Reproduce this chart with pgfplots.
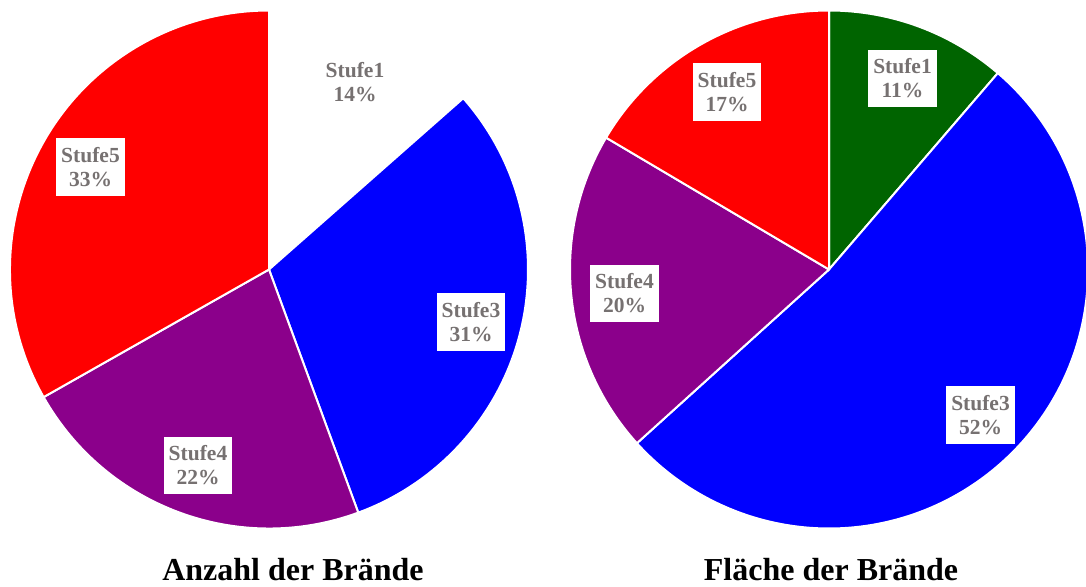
\documentclass[border=0pt]{standalone}
\usepackage{pgfplots}
\pgfplotsset{compat=1.18}
\usepackage{fontspec}
\setmainfont{Liberation Serif}
\definecolor{labgray}{RGB}{118,113,113}
\definecolor{pieblue}{RGB}{0,0,255}
\definecolor{piered}{RGB}{255,0,0}
\definecolor{piepurple}{RGB}{139,0,139}
\definecolor{piegreen}{RGB}{0,100,0}
\tikzset{lab/.style={fill=white, text=labgray, font=\fontsize{21.5}{24}\selectfont\bfseries,
    align=center, inner xsep=5pt, inner ysep=9pt}}
\newcommand\pieslices[4]{% cx, cy, radius, list value/color
  \gdef\cum{0}%
  \foreach \v/\c in {#4}{%
    \pgfmathsetmacro\a{90-3.6*\cum}%
    \pgfmathsetmacro\b{90-3.6*(\cum+\v)}%
    \edef\tmp{\noexpand\fill[fill=\c, draw=white, line width=2pt, line join=round] (axis cs:#1,#2) -- ++(\a:#3pt) arc[start angle=\a, end angle=\b, radius=#3pt] -- cycle;}%
    \tmp
    \pgfmathsetmacro\nc{\cum+\v}%
    \global\let\cum\nc
  }%
}
\begin{document}
\begin{tikzpicture}
\useasboundingbox (0,0) rectangle (1086pt,586pt);
\begin{axis}[
  at={(0,0)}, anchor=south west,
  scale only axis, width=1086pt, height=586pt,
  xmin=0, xmax=1086, ymin=0, ymax=586, y dir=reverse,
  hide axis,
]
% Anzahl der Brände: Stufe1, Stufe3, Stufe4, Stufe5
\pieslices{269}{269.5}{259}{13.5/white, 30.9/pieblue, 22.4/piepurple, 33.2/piered}
% Fläche der Brände
\pieslices{829}{269.5}{259}{11.3/piegreen, 52.0/pieblue, 20.2/piepurple, 16.5/piered}

\node[lab] at (axis cs:355,82) {Stufe1\\14\%};
\node[lab] at (axis cs:471,322) {Stufe3\\31\%};
\node[lab] at (axis cs:198,465.5) {Stufe4\\22\%};
\node[lab] at (axis cs:90.5,167) {Stufe5\\33\%};

\node[lab] at (axis cs:902.5,78.5) {Stufe1\\11\%};
\node[lab] at (axis cs:980.5,415) {Stufe3\\52\%};
\node[lab] at (axis cs:624.5,293.5) {Stufe4\\20\%};
\node[lab] at (axis cs:727,92) {Stufe5\\17\%};

\node[anchor=base, font=\fontsize{32}{36}\selectfont\bfseries] at (axis cs:293,580) {Anzahl der Brände};
\node[anchor=base, font=\fontsize{32}{36}\selectfont\bfseries] at (axis cs:831,580) {Fläche der Brände};
\end{axis}
\end{tikzpicture}
\end{document}
